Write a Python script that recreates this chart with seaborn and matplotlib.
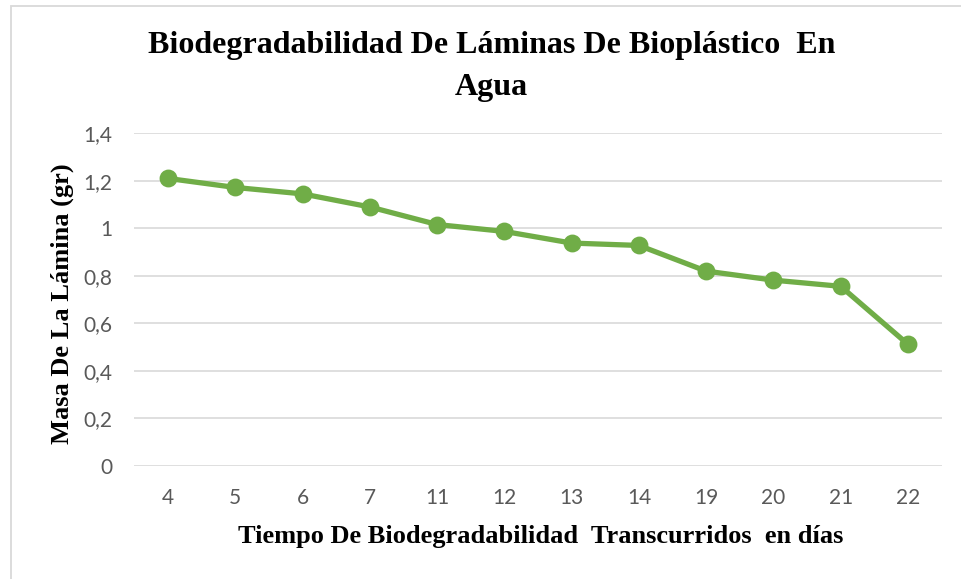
import pandas as pd
import matplotlib.pyplot as plt
import seaborn as sns
from matplotlib.patches import Rectangle

# ── Data ──────────────────────────────────────
dias = ["4", "5", "6", "7", "11", "12", "13", "14", "19", "20", "21", "22"]
masa = [1.21, 1.172, 1.145, 1.09, 1.016, 0.987, 0.938, 0.928, 0.82, 0.782, 0.756, 0.512]
y_ticks = [0, 0.2, 0.4, 0.6, 0.8, 1.0, 1.2, 1.4]
y_tick_labels = ["0", "0,2", "0,4", "0,6", "0,8", "1", "1,2", "1,4"]

TITLE_1 = "Biodegradabilidad De Láminas De Bioplástico  En"
TITLE_2 = "Agua"
X_LABEL = "Tiempo De Biodegradabilidad  Transcurridos  en días"
Y_LABEL = "Masa De La Lámina (gr)"

GREEN = "#70AD47"
GRID = "#D9D9D9"
TICK = "#595959"

df = pd.DataFrame({"dia": dias, "masa": masa})

sns.set_style("white")
plt.rcParams["font.family"] = ["Lato", "DejaVu Sans"]

fig = plt.figure(figsize=(9.61, 5.79), dpi=100)
ax = fig.add_axes([0.1399, 0.1952, 0.8399, 0.5746])

sns.pointplot(data=df, x="dia", y="masa", order=dias, color=GREEN,
              markers="o", markersize=10, linewidth=3.8, errorbar=None, ax=ax)

ax.set_xlim(-0.5, len(dias) - 0.5)
ax.set_ylim(0, 1.4)
ax.set_yticks(y_ticks)
ax.set_yticklabels(y_tick_labels)
ax.yaxis.grid(True, color=GRID, linewidth=1.2)
ax.set_axisbelow(True)
for s in ax.spines.values():
    s.set_visible(False)
ax.tick_params(axis="both", length=0, labelsize=15, labelcolor=TICK)
ax.tick_params(axis="x", pad=16)
ax.tick_params(axis="y", pad=16)
ax.set_xlabel("")
ax.set_ylabel("")

serif = dict(family="Liberation Serif", weight="bold", color="black")
fig.text(492 / 961, 1 - 45 / 579, TITLE_1, ha="center", va="center", fontsize=23, **serif)
fig.text(491 / 961, 1 - 88 / 579, TITLE_2, ha="center", va="center", fontsize=23, **serif)
fig.text(541 / 961, 1 - 537 / 579, X_LABEL, ha="center", va="center", fontsize=19, **serif)
fig.text(62 / 961, 1 - 304 / 579, Y_LABEL, ha="center", va="center", rotation=90,
         fontsize=19, **serif)

# chart border, cut off on the right and bottom like the screenshot
fig.patches.append(Rectangle((10.5 / 961, -0.05), 1.0, 1 - 6 / 579 + 0.05,
                             transform=fig.transFigure, fill=False,
                             edgecolor=GRID, linewidth=1.3))

fig.savefig("out.png", dpi=100)
